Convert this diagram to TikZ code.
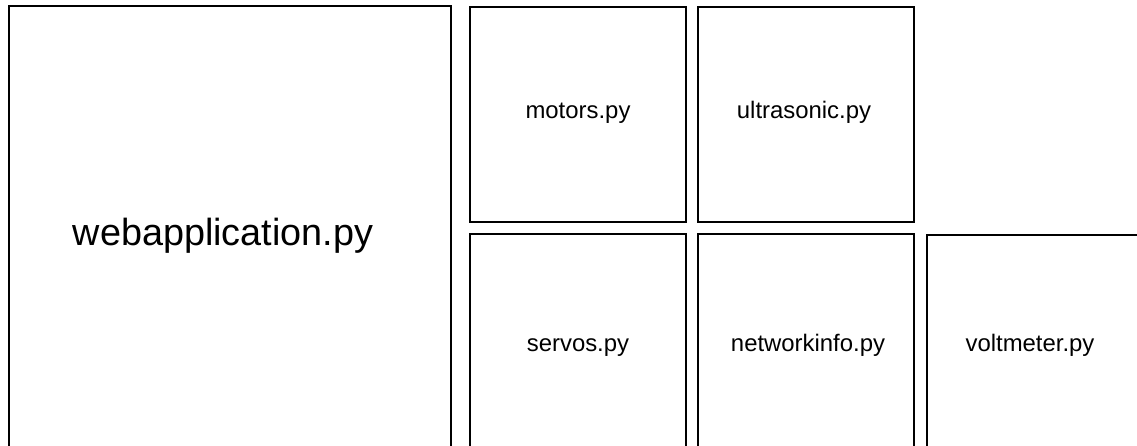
\documentclass[tikz,border=0pt]{standalone}
\usepackage{fontspec}
\setmainfont{Liberation Sans}
\usetikzlibrary{positioning}
\tikzset{
  module/.style={draw, line width=1.1pt, minimum width=4.32cm, minimum height=4.3cm, inner sep=0pt},
  mainmodule/.style={module, minimum width=8.84cm, minimum height=9.04cm},
  filename/.style={anchor=base, inner sep=0pt, font=\fontsize{13.6}{16}\selectfont},
  mainfilename/.style={filename, font=\fontsize{21.5}{26}\selectfont}
}

\begin{document}
\begin{tikzpicture}[x=0.02cm,y=-0.02cm]
  \useasboundingbox (0,0) rectangle (1137,446);
  \clip (0,0) rectangle (1137,446);

  % main application
  \node[mainmodule] (webapp) at (230,232) {};
  \node[mainfilename] (webappname) at (223,245) {webapplication.py};

  % top row
  \node[module] (motors) at (578,114.5) {};
  \node[filename] (motorsname) at (578,119) {motors.py};
  \node[module] (ultrasonic) at (806,114.5) {};
  \node[filename] (ultrasonicname) at (804,119) {ultrasonic.py};

  % bottom row
  \node[module] (servos) at (578,341.5) {};
  \node[filename] (servosname) at (578,351) {servos.py};
  \node[module] (networkinfo) at (806,341.5) {};
  \node[filename] (networkinfoname) at (808,351) {networkinfo.py};
  \node[module] (voltmeter) at (1035,342.5) {};
  \node[filename] (voltmetername) at (1030,351) {voltmeter.py};
\end{tikzpicture}
\end{document}
